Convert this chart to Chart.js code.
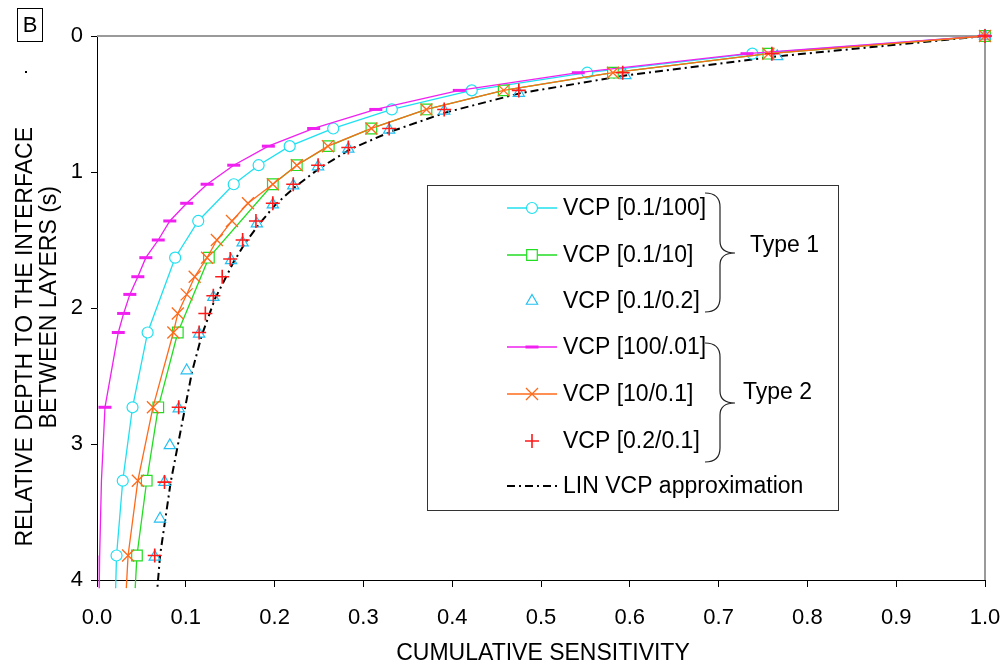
<!DOCTYPE html>
<html>
<head>
<meta charset="utf-8">
<script src="https://cdn.jsdelivr.net/npm/chart.js@4.4.0/dist/chart.umd.min.js"></script>
<style>
  html, body { margin: 0; padding: 0; background: #fff; }
  #wrap { width: 1005px; height: 664px; }
</style>
</head>
<body>
<div id="wrap"><canvas id="vcpChart" width="1005" height="664"></canvas></div>
<script>
// depth (s) and cumulative sensitivity
var cyanDepth = [0, 0.13, 0.27, 0.40, 0.54, 0.68, 0.81, 0.95, 1.09, 1.36, 1.63, 2.18, 2.73, 3.27, 3.82, 4.06];
var cyanSens  = [1.0, 0.738, 0.552, 0.422, 0.332, 0.266, 0.217, 0.182, 0.154, 0.114, 0.088, 0.057, 0.040, 0.029, 0.022, 0.021];

var greenDepth = [0, 0.13, 0.27, 0.40, 0.54, 0.68, 0.81, 0.95, 1.09, 1.63, 2.18, 2.73, 3.27, 3.82, 4.06];
var greenSens  = [1.0, 0.756, 0.581, 0.458, 0.371, 0.309, 0.261, 0.225, 0.198, 0.126, 0.091, 0.069, 0.056, 0.045, 0.043];

var triDepth = [0, 0.15, 0.29, 0.42, 0.55, 0.69, 0.83, 0.96, 1.10, 1.24, 1.38, 1.52, 1.65, 1.92, 2.19, 2.46, 2.74, 3.01, 3.28, 3.55, 3.83];
var triSens  = [1.0, 0.766, 0.595, 0.475, 0.391, 0.329, 0.283, 0.249, 0.221, 0.198, 0.180, 0.164, 0.151, 0.131, 0.115, 0.101, 0.092, 0.082, 0.076, 0.071, 0.065];

var magDepth = [0, 0.13, 0.27, 0.40, 0.54, 0.68, 0.81, 0.95, 1.09, 1.23, 1.36, 1.50, 1.63, 1.77, 1.90, 2.04, 2.18, 2.73, 3.27, 3.82, 4.06];
var magSens  = [1.0, 0.732, 0.542, 0.408, 0.314, 0.244, 0.193, 0.154, 0.124, 0.101, 0.082, 0.069, 0.055, 0.046, 0.037, 0.030, 0.024, 0.009, 0.005, 0.003, 0.0025];

var orangeDepth = [0, 0.13, 0.27, 0.40, 0.54, 0.68, 0.81, 0.95, 1.09, 1.23, 1.36, 1.50, 1.63, 1.77, 1.90, 2.04, 2.18, 2.73, 3.27, 3.82, 4.06];
var orangeSens  = [1.0, 0.756, 0.581, 0.458, 0.371, 0.309, 0.260, 0.225, 0.198, 0.170, 0.152, 0.135, 0.124, 0.110, 0.101, 0.091, 0.086, 0.063, 0.046, 0.035, 0.033];

var redDepth = [0, 0.13, 0.27, 0.40, 0.54, 0.68, 0.82, 0.95, 1.09, 1.23, 1.36, 1.50, 1.64, 1.77, 1.91, 2.04, 2.18, 2.73, 3.28, 3.82];
var redSens  = [1.0, 0.760, 0.592, 0.475, 0.391, 0.329, 0.283, 0.249, 0.221, 0.198, 0.179, 0.164, 0.150, 0.141, 0.131, 0.122, 0.115, 0.092, 0.076, 0.065];

var linDepth = [0, 0.15, 0.29, 0.42, 0.56, 0.70, 0.83, 0.97, 1.11, 1.24, 1.38, 1.52, 1.66, 1.93, 2.20, 2.47, 2.74, 3.01, 3.28, 3.55, 3.82, 4.06];
var linSens  = [1.0, 0.766, 0.595, 0.477, 0.394, 0.332, 0.286, 0.251, 0.223, 0.201, 0.183, 0.167, 0.154, 0.133, 0.118, 0.107, 0.099, 0.091, 0.083, 0.077, 0.071, 0.068];

var seriesNames = ["VCP [0.1/100]", "VCP [0.1/10]", "VCP [0.1/0.2]", "VCP [100/.01]", "VCP [10/0.1]", "VCP [0.2/0.1]", "LIN VCP approximation"];
var xTicks = [0, 0.1, 0.2, 0.3, 0.4, 0.5, 0.6, 0.7, 0.8, 0.9, 1.0];
var yTicks = [0, 1, 2, 3, 4];

var FONT = "'Liberation Sans', Arial, sans-serif";

function pts(xs, ys) {
    return xs.map(function (v, i) { return { x: v, y: ys[i] }; });
}
// hide markers past the last measured point (line only runs on to the axis)
function markersUpTo(n, r) {
    return function (ctx) { return ctx.dataIndex < n ? r : 0; };
}

var datasets = [
    { label: seriesNames[0], data: pts(cyanSens, cyanDepth), borderColor: "#1fe0f0", backgroundColor: "#fff",
      pointStyle: "circle", pointRadius: markersUpTo(15, 5.5), pointBorderWidth: 1.2, borderWidth: 1.3, showLine: true, order: 5 },
    { label: seriesNames[1], data: pts(greenSens, greenDepth), borderColor: "#22dd22", backgroundColor: "#fff",
      pointStyle: "rect", pointRadius: markersUpTo(14, 7.5), pointBorderWidth: 1.2, borderWidth: 1.3, showLine: true, order: 4 },
    { label: seriesNames[2], data: pts(triSens, triDepth), borderColor: "#25c0f2", backgroundColor: "rgba(0,0,0,0)",
      pointStyle: "triangle", pointRadius: 6.5, pointBorderWidth: 1.2, showLine: false, order: 3 },
    { label: seriesNames[3], data: pts(magSens, magDepth), borderColor: "#f020f0", backgroundColor: "#f020f0",
      pointStyle: "line", pointRadius: markersUpTo(18, 6.5), pointBorderWidth: 3, borderWidth: 1.3, showLine: true, order: 2 },
    { label: seriesNames[4], data: pts(orangeSens, orangeDepth), borderColor: "#ff6a1a", backgroundColor: "rgba(0,0,0,0)",
      pointStyle: "crossRot", pointRadius: markersUpTo(20, 8.5), pointBorderWidth: 1.3, borderWidth: 1.3, showLine: true, order: 1 },
    { label: seriesNames[5], data: pts(redSens, redDepth), borderColor: "#ff1a1a", backgroundColor: "rgba(0,0,0,0)",
      pointStyle: "cross", pointRadius: 7, pointBorderWidth: 1.6, showLine: false, order: 0 },
    { label: seriesNames[6], data: pts(linSens, linDepth), borderColor: "#000", backgroundColor: "#000",
      pointRadius: 0, borderWidth: 2, borderDash: [8, 4, 2, 4], showLine: true, order: 6 }
];
datasets.forEach(function (d) { d.clip = false; d.pointHoverRadius = 0; });

var frame = {
    id: "frame",
    beforeDatasetsDraw: function (chart) {
        var c = chart.ctx, a = chart.chartArea;
        c.save();
        c.strokeStyle = "#9a9a9a";
        c.lineWidth = 2;
        c.beginPath();
        c.moveTo(a.left, a.top);
        c.lineTo(a.right, a.top);
        c.lineTo(a.right, a.bottom);
        c.stroke();
        c.restore();
    },
    afterDraw: function (chart) {
        var c = chart.ctx;
        c.save();
        c.fillStyle = "#000";
        c.font = "23px " + FONT;

        // axis titles
        c.textAlign = "center";
        c.textBaseline = "alphabetic";
        c.fillText("CUMULATIVE SENSITIVITY", 543, 660);
        c.save();
        c.translate(32, 0);
        c.rotate(-Math.PI / 2);
        c.textAlign = "right";
        c.fillText("RELATIVE DEPTH TO THE INTERFACE", -127, 0);
        c.restore();
        c.save();
        c.translate(56, 0);
        c.rotate(-Math.PI / 2);
        c.textAlign = "right";
        c.fillText("BETWEEN LAYERS (s)", -186, 0);
        c.restore();

        // panel letter
        c.strokeStyle = "#000";
        c.lineWidth = 1;
        c.strokeRect(17.5, 8.5, 25, 33);
        c.font = "22px " + FONT;
        c.textAlign = "center";
        c.textBaseline = "middle";
        c.fillText("B", 30, 26);
        c.fillRect(25, 71, 2, 2);

        // legend box
        c.fillStyle = "#fff";
        c.fillRect(427, 185, 411, 325);
        c.strokeStyle = "#333";
        c.strokeRect(427.5, 185.5, 411, 325);

        var rows = [208, 255, 301, 347, 394, 441, 486];
        chart.data.datasets.forEach(function (d, i) {
            var y = rows[i];
            c.save();
            c.strokeStyle = d.borderColor;
            if (d.showLine) {
                c.lineWidth = d.borderWidth;
                c.setLineDash(d.borderDash || []);
                c.beginPath();
                c.moveTo(507, y);
                c.lineTo(557, y);
                c.stroke();
                c.setLineDash([]);
            }
            if (i < 6) {
                var r = typeof d.pointRadius === "function" ? d.pointRadius({ dataIndex: 0 }) : d.pointRadius;
                c.fillStyle = d.backgroundColor;
                c.lineWidth = d.pointBorderWidth;
                Chart.helpers.drawPoint(c, { pointStyle: d.pointStyle, radius: r, rotation: 0, borderWidth: d.pointBorderWidth }, 532, y);
            }
            c.restore();
            c.fillStyle = "#000";
            c.font = "23px " + FONT;
            c.textAlign = "left";
            c.textBaseline = "middle";
            c.fillText(d.label, 563, y + 1);
        });

        // braces grouping the two types
        function brace(x0, yTop, yBot, yTip) {
            c.beginPath();
            c.moveTo(x0, yTop);
            c.quadraticCurveTo(x0 + 15, yTop, x0 + 15, yTop + 14);
            c.lineTo(x0 + 15, yTip - 12);
            c.quadraticCurveTo(x0 + 15, yTip, x0 + 30, yTip);
            c.quadraticCurveTo(x0 + 15, yTip, x0 + 15, yTip + 12);
            c.lineTo(x0 + 15, yBot - 14);
            c.quadraticCurveTo(x0 + 15, yBot, x0, yBot);
            c.stroke();
        }
        c.strokeStyle = "#222";
        c.lineWidth = 1.2;
        brace(705, 193, 312, 253);
        brace(705, 343, 462, 403);
        c.fillStyle = "#000";
        c.textAlign = "left";
        c.fillText("Type 1", 750, 246);
        c.fillText("Type 2", 743, 393);
        c.restore();
    }
};

new Chart(document.getElementById("vcpChart"), {
    type: "scatter",
    data: { datasets: datasets },
    options: {
        responsive: false,
        animation: false,
        events: [],
        layout: { padding: { top: 36, right: 20, left: 0, bottom: 0 } },
        plugins: { legend: { display: false }, tooltip: { enabled: false } },
        scales: {
            x: {
                type: "linear", min: 0, max: 1,
                afterBuildTicks: function (s) { s.ticks = xTicks.map(function (v) { return { value: v }; }); },
                afterFit: function (s) { s.height = 84; s.paddingLeft = 0; s.paddingRight = 0; },
                ticks: { color: "#000", font: { family: FONT, size: 22 }, padding: 18, maxRotation: 0,
                         callback: function (v) { return Number(v).toFixed(1); } },
                grid: { drawOnChartArea: false, color: "#000", tickLength: 7, tickWidth: 1 },
                border: { color: "#000", width: 1 }
            },
            y: {
                type: "linear", min: 0, max: 4, reverse: true,
                afterBuildTicks: function (s) { s.ticks = yTicks.map(function (v) { return { value: v }; }); },
                afterFit: function (s) { s.width = 97; s.paddingTop = 0; s.paddingBottom = 0; },
                ticks: { color: "#000", font: { family: FONT, size: 22 }, padding: 8 },
                grid: { drawOnChartArea: false, color: "#000", tickLength: 6, tickWidth: 1 },
                border: { color: "#000", width: 1 }
            }
        }
    },
    plugins: [frame]
});
</script>
</body>
</html>
